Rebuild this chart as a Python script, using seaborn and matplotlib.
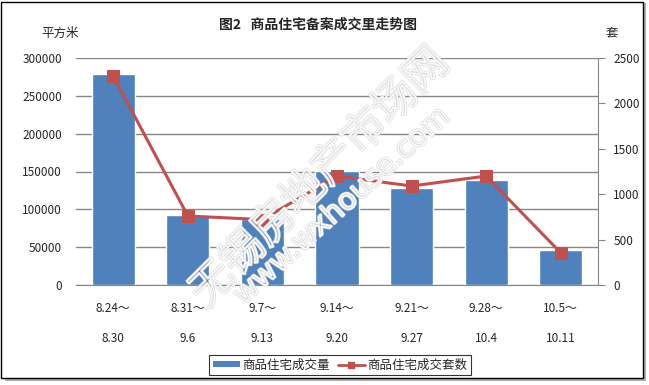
import numpy as np
import pandas as pd
import matplotlib
matplotlib.use('Agg')
import matplotlib.pyplot as plt
import seaborn as sns
from matplotlib.patches import Rectangle, Patch
from matplotlib.lines import Line2D
import matplotlib.patheffects as pe

sns.set_style('white')
plt.rcParams['font.family'] = ['Noto Sans CJK SC', 'DejaVu Sans']

# 数据
weeks = ['8.24～\n\n8.30', '8.31～\n\n9.6', '9.7～\n\n9.13', '9.14～\n\n9.20',
         '9.21～\n\n9.27', '9.28～\n\n10.4', '10.5～\n\n10.11']
area = [279000, 92500, 87000, 150500, 128000, 139000, 46500]
units = [2300, 760, 720, 1200, 1090, 1200, 355]

df = pd.DataFrame({'week': weeks, 'area': area, 'units': units})

fig = plt.figure(figsize=(6.49, 3.85), dpi=100)
ax = fig.add_axes([76 / 649, 1 - 285 / 385, (598 - 76) / 649, (285 - 58) / 385])

sns.barplot(data=df, x='week', y='area', color='#4F81BD', width=0.58,
            saturation=1, ax=ax, zorder=2)
ax.set_ylim(0, 300000)
ax.set_yticks(np.arange(0, 300001, 50000))
ax.yaxis.grid(True, color='#868686', linewidth=1)
ax.set_axisbelow(True)
ax.set_xlabel('')
ax.set_ylabel('')
for s in ['left', 'top', 'right']:
    ax.spines[s].set_visible(False)
ax.spines['bottom'].set_color('#868686')
ax.tick_params(axis='y', length=0, labelsize=8.5, pad=10)
ax.tick_params(axis='x', length=0, labelsize=8.5, pad=12)
ax.set_xlim(-0.5, len(weeks) - 0.5)

ax2 = ax.twinx()
sns.lineplot(data=df, x='week', y='units', color='#C0504D', linewidth=2.2,
             marker='s', markersize=8, markeredgecolor='#C0504D', ax=ax2, sort=False)
ax2.set_ylim(0, 2500)
ax2.set_yticks(np.arange(0, 2501, 500))
ax2.set_ylabel('')
ax2.set_xlabel('')
for s in ['left', 'top', 'bottom']:
    ax2.spines[s].set_visible(False)
ax2.spines['right'].set_color('#868686')
ax2.tick_params(axis='y', length=5, color='#868686', labelsize=8.5, pad=6)

# 标题和单位
fig.text(318 / 649, 1 - 25 / 385, '图2   商品住宅备案成交里走势图', ha='center', va='center',
         fontsize=10, fontweight='bold')
fig.text(60 / 649, 1 - 33 / 385, '平方米', ha='center', va='center', fontsize=9)
fig.text(612 / 649, 1 - 33 / 385, '套', ha='center', va='center', fontsize=9)

# 水印（空心字）
wm = [pe.Stroke(linewidth=2.0, foreground='#dddddd'), pe.Stroke(linewidth=0.9, foreground='white')]
fig.text(320 / 649, 1 - 178 / 385, '无锡房地产市场网', ha='center', va='center',
         rotation=45, fontsize=31, color='none', path_effects=wm, zorder=10)
fig.text(342 / 649, 1 - 206 / 385, 'www.wxhouse.com', ha='center', va='center',
         rotation=42, fontsize=21, color='none', path_effects=wm, zorder=10,
         family='DejaVu Sans')

# 图例
handles = [Patch(facecolor='#4F81BD', edgecolor='none'),
           Line2D([0], [0], color='#C0504D', linewidth=2, marker='s', markersize=5)]
leg = fig.legend(handles, ['商品住宅成交量', '商品住宅成交套数'], loc='center',
                 bbox_to_anchor=(340 / 649, 1 - 365 / 385), ncol=2, frameon=True,
                 fancybox=False, fontsize=9, handlelength=2.2, handleheight=0.3,
                 columnspacing=0.6, handletextpad=0.2, borderpad=0.25, borderaxespad=0)
leg.get_frame().set_edgecolor('black')
leg.get_frame().set_linewidth(0.8)

# 外框
fig.patches.append(Rectangle((5 / 649, 4 / 385), 641 / 649, 378 / 385, transform=fig.transFigure,
                             facecolor='#b0b0b0', edgecolor='none', zorder=-2))
fig.patches.append(Rectangle((1 / 649, 7 / 385), 642 / 649, 376 / 385, transform=fig.transFigure,
                             facecolor='white', edgecolor='black', linewidth=1, zorder=-1))

fig.savefig('out.png', dpi=100)
